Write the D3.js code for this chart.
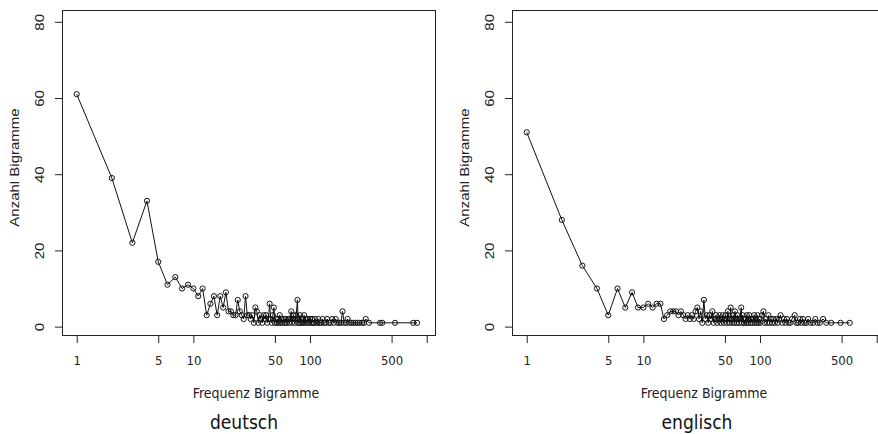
<!DOCTYPE html>
<html>
<head>
<meta charset="utf-8">
<script src="https://cdn.jsdelivr.net/npm/d3@7"></script>
<style>
  body { margin: 0; background: #fff; }
  svg { display: block; }
</style>
</head>
<body>
<svg id="chart" width="878" height="434"></svg>
<script>
// German bigram frequency spectrum: frequency -> number of bigrams
const deFreq = [1,2,3,4,5,6,7,8,9,10,11,12,13,14,15,16,17,18,19,20,21,22,23,24,
  25,26,27,28,29,30,31,32,33,34,35,36,37,38,39,40,41,42,43,44,45,46,47,48,49,50,
  51,52,53,54,55,56,57,58,60,61,62,63,65,66,67,69,70,71,72,74,75,76,78,79,80,81,82,
  84,85,87,89,90,92,94,96,98,100,102,104,106,108,110,113,116,118,121,125,128,132,
  136,140,145,150,155,160,166,172,178,184,190,196,204,210,218,226,235,245,255,265,
  280,290,300,320,398,416,535,767,826];
const deCount = [61,39,22,33,17,11,13,10,11,10,8,10,3,6,8,3,8,5,9,4,4,3,3,7,
  4,3,2,8,3,3,2,3,1,5,4,1,3,2,1,3,2,3,1,2,6,2,1,3,5,1,
  2,1,2,1,3,1,2,1,2,1,2,1,2,1,2,4,1,2,3,1,2,3,7,1,2,1,3,
  1,2,1,3,1,2,1,2,1,2,1,2,1,1,2,1,1,2,1,1,2,1,
  1,2,1,1,2,1,2,1,1,1,4,1,1,2,1,1,1,1,1,1,
  1,1,2,1,1,1,1,1,1];

// English bigram frequency spectrum
const enFreq = [1,2,3,4,5,6,7,8,9,10,11,12,13,14,15,16,17,18,19,20,21,22,23,24,
  25,26,27,28,29,30,31,32,33,34,35,36,37,38,39,40,41,42,43,44,45,46,47,48,49,50,
  51,52,53,54,55,56,57,58,59,60,61,62,63,64,65,66,67,69,70,71,72,73,75,76,77,79,80,
  81,83,84,86,87,89,90,92,94,95,97,99,101,104,107,109,112,115,118,121,124,127,130,
  134,138,142,146,150,155,160,165,170,176,182,188,198,205,212,220,226,233,240,250,
  258,270,285,298,310,325,347,370,407,490,587];
const enCount = [51,28,16,10,3,10,5,9,5,5,6,5,6,6,2,3,4,4,4,3,4,3,2,3,
  2,3,2,4,5,2,4,1,7,2,3,1,3,2,4,1,2,3,1,2,3,1,2,3,1,2,
  3,1,4,2,1,5,2,1,3,1,4,2,1,3,2,1,2,5,1,3,2,1,2,1,3,1,2,
  3,1,2,1,2,3,1,2,1,3,1,2,1,3,4,1,2,1,3,1,2,1,2,
  1,2,1,2,3,1,2,1,2,1,1,2,3,1,1,2,1,2,1,1,
  2,1,1,2,1,1,2,1,1,1,1];

const xTicks = [1, 5, 10, 50, 100, 500, 1000];
const xTickLabels = ['1', '5', '10', '50', '100', '500', ''];
const yTicks = [0, 20, 40, 60, 80];

const panels = [
  {title: 'deutsch', freq: deFreq, count: deCount, left: 62, titleX: 244, xlabX: 256},
  {title: 'englisch', freq: enFreq, count: enCount, left: 512, titleX: 697, xlabX: 704}
];

const boxW = 373, plotTop = 10, plotBottom = 335;
const stretch = 1.2; // the original figure is slightly stretched vertically

const svg = d3.select('#chart');

panels.forEach(p => {
  const x = d3.scaleLog().domain([0.748, 1178]).range([p.left, p.left + boxW]);
  const y = d3.scaleLinear().domain([-2.2, 83.1]).range([plotBottom, plotTop]);
  const g = svg.append('g');

  // x axis (ticks hang below the box)
  const xAxis = g.append('g')
    .attr('transform', `translate(0,${plotBottom})`)
    .call(d3.axisBottom(x).tickValues(xTicks)
      .tickFormat((d, i) => xTickLabels[i]).tickSize(8).tickSizeOuter(0));
  xAxis.select('.domain').remove();
  xAxis.selectAll('line').attr('stroke', '#222');
  xAxis.selectAll('text')
    .attr('y', 30).attr('dy', null)
    .attr('fill', '#222')
    .style('font-family', '"DejaVu Sans Condensed", "DejaVu Sans", sans-serif')
    .style('font-size', '13px');

  // y axis with rotated labels
  const yAxis = g.append('g')
    .attr('transform', `translate(${p.left},0)`)
    .call(d3.axisLeft(y).tickValues(yTicks).tickSize(7).tickSizeOuter(0));
  yAxis.select('.domain').remove();
  yAxis.selectAll('line').attr('stroke', '#222');
  yAxis.selectAll('.tick text')
    .attr('x', null).attr('dy', null)
    .attr('text-anchor', 'middle')
    .attr('fill', '#222')
    .attr('transform', `translate(-18.5,0) scale(1,${stretch}) rotate(-90)`)
    .style('font-family', '"Liberation Sans", Arial, sans-serif')
    .style('font-size', '12.5px');

  // box
  g.append('rect')
    .attr('x', p.left + 0.5).attr('y', plotTop + 0.5)
    .attr('width', boxW).attr('height', plotBottom - plotTop)
    .attr('fill', 'none').attr('stroke', '#222').attr('stroke-width', 1);

  const pts = p.freq.map((f, i) => ({f, c: p.count[i]}));

  g.append('path')
    .datum(pts)
    .attr('fill', 'none').attr('stroke', '#111').attr('stroke-width', 1)
    .attr('d', d3.line().x(d => x(d.f)).y(d => y(d.c)));

  g.selectAll('circle.pt').data(pts).enter().append('circle')
    .attr('class', 'pt')
    .attr('cx', d => x(d.f)).attr('cy', d => y(d.c))
    .attr('r', 2.6)
    .attr('fill', 'none').attr('stroke', '#111').attr('stroke-width', 1);

  // y axis title
  g.append('text')
    .attr('transform', `translate(${p.left - 43.5},${(plotTop + plotBottom) / 2 - 5}) scale(1,${stretch}) rotate(-90)`)
    .attr('text-anchor', 'middle')
    .attr('fill', '#222')
    .style('font-family', '"Liberation Sans", Arial, sans-serif')
    .style('font-size', '12.5px')
    .text('Anzahl Bigramme');

  // x axis title
  g.append('text')
    .attr('x', p.xlabX).attr('y', 397.5)
    .attr('text-anchor', 'middle')
    .attr('fill', '#222')
    .style('font-family', '"DejaVu Sans Condensed", "DejaVu Sans", sans-serif')
    .style('font-size', '14px')
    .text('Frequenz Bigramme');

  // panel caption
  g.append('text')
    .attr('x', p.titleX).attr('y', 428.5)
    .attr('text-anchor', 'middle')
    .attr('fill', '#111')
    .style('font-family', '"DejaVu Sans Condensed", "DejaVu Sans", sans-serif')
    .style('font-size', '19px')
    .text(p.title);
});
</script>
</body>
</html>
